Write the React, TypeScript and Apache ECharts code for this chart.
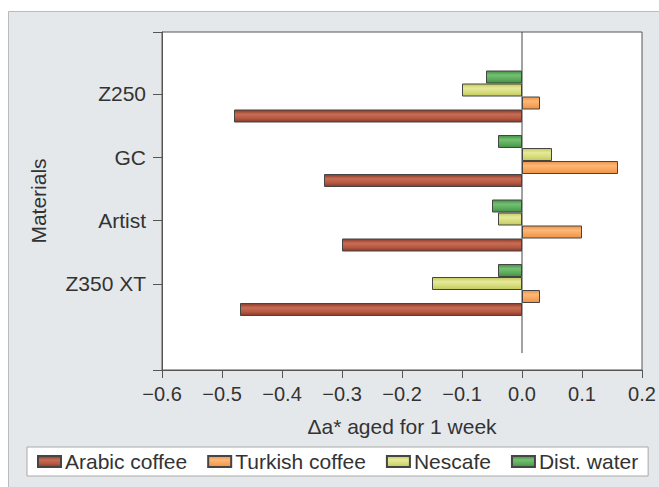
import React, { useEffect, useRef } from "react";
import * as echarts from "echarts";

const categories = ["Z250", "GC", "Artist", "Z350 XT"];
const arabicCoffee = [-0.48, -0.33, -0.30, -0.47];
const turkishCoffee = [0.03, 0.16, 0.10, 0.03];
const nescafe = [-0.10, 0.05, -0.04, -0.15];
const distWater = [-0.06, -0.04, -0.05, -0.04];
const seriesNames = ["Arabic coffee", "Turkish coffee", "Nescafe", "Dist. water"];
const xMin = -0.6;
const xMax = 0.2;
const xStep = 0.1;
const zeroLine = [[0, 0.05], [0, 1]];

const FONT = "'Liberation Sans', Arial, sans-serif";

function grad(edge: string, light: string, mid: string) {
  return new echarts.graphic.LinearGradient(0, 0, 0, 1, [
    { offset: 0, color: edge },
    { offset: 0.35, color: light },
    { offset: 0.7, color: mid },
    { offset: 1, color: edge },
  ]);
}

export default function App() {
  const ref = useRef<HTMLDivElement>(null);
  useEffect(() => {
    if (!ref.current) return;
    const chart = echarts.init(ref.current, undefined, { renderer: "svg" });
    const fmt = (v: number) => {
      const s = Math.abs(v) < 1e-9 ? "0.0" : v.toFixed(1);
      return s.replace("-", "\u2212");
    };
    const barBase = {
      type: "bar" as const,
      xAxisIndex: 1,
      yAxisIndex: 1,
      barWidth: 13,
      barGap: "0%",
    };
    const border = { borderColor: "#454545", borderWidth: 1 };
    chart.setOption({
      animation: false,
      textStyle: { fontFamily: FONT },
      graphic: [
        {
          type: "rect",
          z: -100,
          shape: { x: 8.5, y: 11.5, width: 700, height: 500 },
          style: { fill: "#e5e8eb", stroke: "#b8bcc0", lineWidth: 1 },
        },
      ],
      legend: {
        data: seriesNames,
        left: 27,
        top: 447,
        orient: "horizontal",
        icon: "rect",
        itemWidth: 23,
        itemHeight: 11,
        itemGap: 20,
        padding: [4, 10, 4, 10],
        backgroundColor: "#ffffff",
        borderColor: "#a8a8a8",
        borderWidth: 1,
        borderRadius: 0,
        textStyle: { fontSize: 21, color: "#333", fontFamily: FONT, padding: [0, 0, 0, -1] },
      },
      grid: [
        {
          left: 162, top: 32, width: 480, height: 338,
          show: true, backgroundColor: "#ffffff", borderColor: "#555", borderWidth: 1,
        },
        { left: 162, top: 64.25, width: 480, height: 258 },
        { left: 162, top: 62.3, width: 480, height: 253.3 },
      ],
      xAxis: [
        {
          gridIndex: 0, type: "value", min: xMin, max: xMax, interval: xStep,
          splitLine: { show: false },
          axisLine: { show: true, onZero: false, lineStyle: { color: "#555" } },
          axisTick: { show: true, length: 8, lineStyle: { color: "#555" } },
          axisLabel: { fontSize: 20, color: "#333", margin: 14, formatter: fmt, fontFamily: FONT },
          name: "\u0394a* aged for 1 week",
          nameLocation: "middle",
          nameGap: 46,
          nameTextStyle: { fontSize: 21, color: "#333", fontFamily: FONT },
        },
        { gridIndex: 1, type: "value", min: xMin, max: xMax, show: false },
        { gridIndex: 2, type: "value", min: xMin, max: xMax, show: false },
      ],
      yAxis: [
        {
          gridIndex: 0, type: "value", min: 0, max: 1, interval: 1,
          splitLine: { show: false },
          axisLine: { show: true, onZero: false, lineStyle: { color: "#555" } },
          axisTick: { show: true, length: 9, lineStyle: { color: "#555" } },
          axisLabel: { show: false },
          name: "Materials",
          nameLocation: "middle",
          nameRotate: 90,
          nameGap: 113,
          nameTextStyle: { fontSize: 21, color: "#333", fontFamily: FONT },
        },
        { gridIndex: 1, type: "category", inverse: true, data: categories, show: false },
        {
          gridIndex: 2, type: "category", inverse: true, data: categories,
          axisLine: { show: false, onZero: false },
          axisTick: { show: true, alignWithLabel: true, length: 9, lineStyle: { color: "#555" } },
          axisLabel: { fontSize: 21, color: "#333", margin: 16, fontFamily: FONT },
          splitLine: { show: false },
        },
      ],
      series: [
        {
          type: "line", xAxisIndex: 0, yAxisIndex: 0, data: zeroLine,
          symbol: "none", silent: true, z: 5,
          lineStyle: { color: "#444", width: 1 },
        },
        {
          ...barBase, name: seriesNames[3], data: distWater,
          itemStyle: { color: grad("#468f46", "#74c072", "#5aab5a"), ...border },
        },
        {
          ...barBase, name: seriesNames[2], data: nescafe,
          itemStyle: { color: grad("#c2c95e", "#e6ea9a", "#d5db78"), ...border },
        },
        {
          ...barBase, name: seriesNames[1], data: turkishCoffee,
          itemStyle: { color: grad("#ec9446", "#fdb878", "#f8a35a"), ...border },
        },
        {
          ...barBase, name: seriesNames[0], data: arabicCoffee,
          itemStyle: { color: grad("#87392a", "#c86d54", "#b65842"), ...border },
        },
      ],
    });
    return () => chart.dispose();
  }, []);
  return (
    <div
      ref={ref}
      style={{ position: "absolute", left: 0, top: 0, width: 659, height: 487 }}
    />
  );
}
